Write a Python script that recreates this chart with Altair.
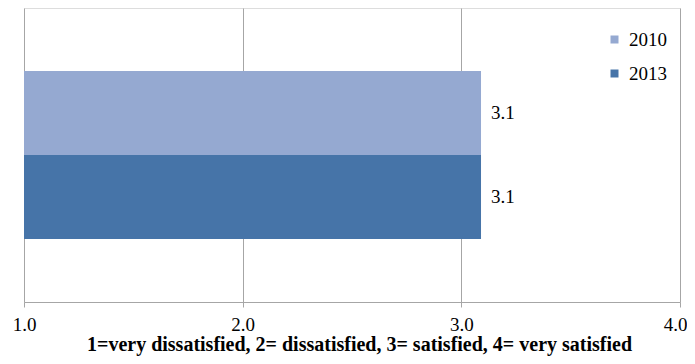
import altair as alt
import pandas as pd

years = ["2010", "2013"]
values = [3.09, 3.09]
colors = ["#95A9D1", "#4674A8"]
x_ticks = [1.0, 2.0, 3.0, 4.0]

df = pd.DataFrame({"year": years, "value": values, "base": [1.0] * len(years)})

FONT = "Liberation Serif"
FS = 19

xscale = alt.Scale(domain=[1, 4], zero=False, nice=False)
yscale = alt.Scale(domain=years, paddingInner=0, paddingOuter=0.75)

bars = alt.Chart(df).mark_bar().encode(
    x=alt.X("value:Q", scale=xscale,
            axis=alt.Axis(values=x_ticks, format=".1f",
                          title="1=very dissatisfied, 2= dissatisfied, 3= satisfied, 4= very satisfied",
                          titleFont=FONT, titleFontSize=20, titleFontWeight="bold", titleColor="#000000",
                          titlePadding=0, titleX=335, titleAlign="center",
                          labelFont=FONT, labelFontSize=FS, labelColor="#000000", labelPadding=8,
                          labelOffset={"condition": {"test": "datum.value == 4", "value": -5}, "value": 0},
                          grid=True, gridColor="#A6A6A6", gridWidth=1,
                          domainColor="#A6A6A6", tickColor="#A6A6A6", tickSize=5,
                          labelFlush=False)),
    x2="base:Q",
    y=alt.Y("year:N", scale=yscale, axis=None),
    color=alt.Color("year:N", scale=alt.Scale(domain=years, range=colors),
                    legend=alt.Legend(title=None, orient="none", legendX=581, legendY=22,
                                      symbolType="square", symbolSize=64, symbolStrokeWidth=0,
                                      labelFont=FONT, labelFontSize=FS, labelColor="#000000",
                                      rowPadding=14, padding=0, labelOffset=5)),
)

labels = alt.Chart(df).mark_text(align="left", baseline="middle", dx=10, font=FONT,
                                 fontSize=FS, color="#000000").encode(
    x=alt.X("value:Q", scale=xscale),
    y=alt.Y("year:N", scale=yscale),
    text=alt.Text("value:Q", format=".1f"),
)

chart = alt.layer(bars, labels).properties(
    width=656, height=294,
    autosize=alt.AutoSizeParams(type="none"),
    padding={"left": 16, "top": 0, "right": 7, "bottom": 54},
).configure_view(stroke=None).configure(background="#FFFFFF")

chart.save("out.html", embed_options={"renderer": "svg", "actions": False})
